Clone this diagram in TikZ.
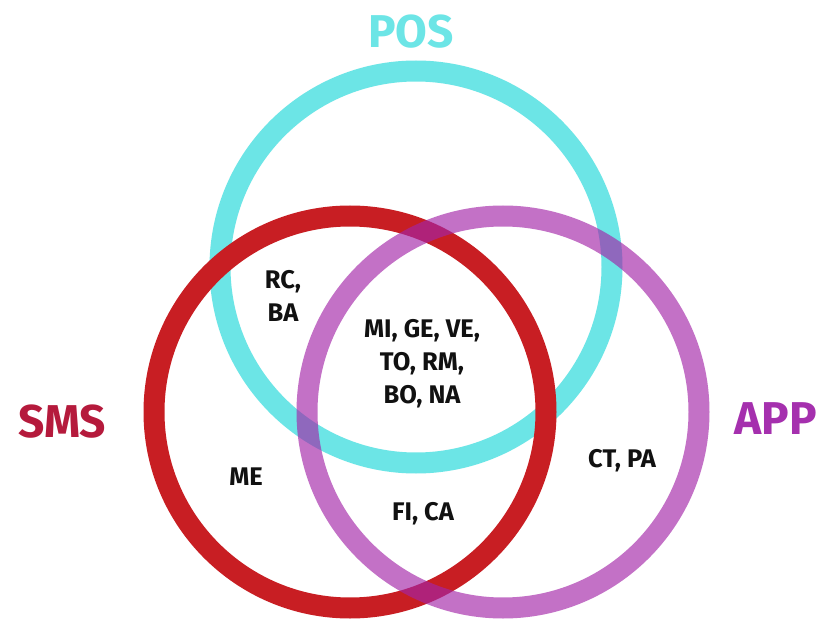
\documentclass[tikz,border=0pt]{standalone}
\usepackage{fontspec}
\setmainfont{Fira Sans}
\definecolor{poscol}{RGB}{108,229,230}
\definecolor{smsring}{RGB}{200,30,35}
\definecolor{appring}{RGB}{163,37,168}
\definecolor{smslabel}{RGB}{181,26,60}
\definecolor{applabel}{RGB}{165,48,174}
\definecolor{txt}{RGB}{17,17,17}
\begin{document}
\begin{tikzpicture}[x=1pt,y=-1pt,
  ring/.style={circle, minimum size=392pt, inner sep=0pt, line width=21pt},
  setlabel/.style={font=\fontsize{46}{52}\selectfont\bfseries},
  region/.style={font=\fontsize{25.5}{33}\selectfont\bfseries, text=txt, align=center, inner sep=0pt}]
\useasboundingbox (0,0) rectangle (823,623);
\fill[white] (0,0) rectangle (823,623);
\node[ring, draw=poscol] (pos) at (416,267) {};
\node[ring, draw=smsring] (sms) at (350,412) {};
\node[ring, draw=appring, draw opacity=0.65] (app) at (503,412) {};
\node[setlabel, text=poscol] (poslbl) at (411,32) {POS};
\node[setlabel, text=smslabel] (smslbl) at (62,422) {SMS};
\node[setlabel, text=applabel] (applbl) at (776,419) {APP};
\node[region] (rcba) at (283,296) {RC,\\BA};
\node[region] (center) at (422,364) {MI, GE, VE,\\TO, RM,\\BO, NA};
\node[region] (me) at (246,477) {ME};
\node[region] (fica) at (423,514) {FI, CA};
\node[region] (ctpa) at (622,461) {CT, PA};
\end{tikzpicture}
\end{document}
